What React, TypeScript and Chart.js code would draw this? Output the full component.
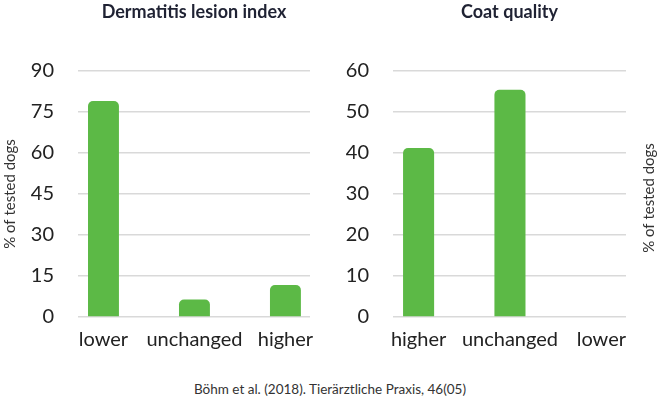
import { useEffect, useRef } from 'react'
import { Chart, registerables } from 'chart.js'

Chart.register(...registerables)

const FONT = 'Lato, "Noto Sans", sans-serif'
const GREEN = '#5cb946'
const TEXT = '#222222'

// Dermatitis lesion index
const lesionLabels = ['lower', 'unchanged', 'higher']
const lesionValues = [79, 6.4, 11.7]
const lesionTicks = { max: 90, step: 15 }

// Coat quality
const coatLabels = ['higher', 'unchanged', 'lower']
const coatValues = [41.2, 55.4, 0]
const coatTicks = { max: 60, step: 10 }

const axisTitle = '% of tested dogs'
const source = 'Böhm et al. (2018). Tierärztliche Praxis, 46(05)'

interface PanelProps {
  title: string
  labels: string[]
  values: number[]
  ticks: { max: number; step: number }
  axisWidth: number
  padRight: number
  rightTitle?: boolean
}

function Panel({ title, labels, values, ticks, axisWidth, padRight, rightTitle }: PanelProps) {
  const canvasRef = useRef<HTMLCanvasElement>(null)

  useEffect(() => {
    if (!canvasRef.current) return

    // axis title on the right side, reading bottom to top
    const rightTitlePlugin = {
      id: 'rightTitle',
      afterDraw(chart: Chart) {
        if (!rightTitle) return
        const { ctx, chartArea } = chart
        ctx.save()
        ctx.translate(chart.width - 11, (chartArea.top + chartArea.bottom) / 2 + 4)
        ctx.rotate(-Math.PI / 2)
        ctx.font = `15px ${FONT}`
        ctx.fillStyle = '#333333'
        ctx.textAlign = 'center'
        ctx.textBaseline = 'middle'
        ctx.fillText(axisTitle, 0, 0)
        ctx.restore()
      },
    }

    const chart = new Chart(canvasRef.current, {
      type: 'bar',
      data: {
        datasets: [{
          data: values.map((v, i) => ({ x: i, y: v })),
          backgroundColor: GREEN,
          borderRadius: 5,
          borderSkipped: 'start',
          categoryPercentage: 1,
          barPercentage: 0.34,
        }],
      },
      options: {
        animation: false,
        responsive: true,
        maintainAspectRatio: false,
        layout: { padding: { left: 0, right: padRight, top: 71, bottom: 0 } },
        plugins: {
          legend: { display: false },
          tooltip: { enabled: false },
        },
        scales: {
          x: {
            type: 'linear',
            min: -0.28,
            max: 2.27,
            offset: false,
            afterBuildTicks: (scale: any) => {
              scale.ticks = labels.map((_, i) => ({ value: i }))
            },
            afterFit: (scale: any) => { scale.height = 36 },
            ticks: {
              callback: (v: any) => labels[v as number] ?? '',
              color: TEXT,
              font: { family: FONT, size: 20 },
              padding: 11,
              maxRotation: 0,
            },
            grid: { display: false, drawTicks: false },
            border: { display: false },
          },
          y: {
            min: 0,
            max: ticks.max,
            afterFit: (scale: any) => { scale.width = axisWidth },
            ticks: {
              stepSize: ticks.step,
              color: TEXT,
              font: { family: FONT, size: 20 },
              padding: 24,
            },
            grid: { color: '#d9d9d9', lineWidth: 1.5, drawTicks: false },
            border: { display: false },
            title: {
              display: !rightTitle,
              text: axisTitle,
              color: '#333333',
              font: { family: FONT, size: 15 },
              padding: { top: 1, bottom: 0 },
            },
          },
        },
      },
      plugins: [rightTitlePlugin],
    })
    return () => { chart.destroy() }
  }, [title, labels, values, ticks, axisWidth, padRight, rightTitle])

  return (
    <div style={{ position: 'relative', width: 330, height: 353 }}>
      <div style={{
        position: 'absolute', top: 0, left: axisWidth, width: 330 - axisWidth - padRight,
        textAlign: 'center', fontFamily: FONT, fontWeight: 'bold', fontSize: 18,
        lineHeight: '22px', color: '#1f2233', whiteSpace: 'nowrap',
      }}>
        {title}
      </div>
      <canvas ref={canvasRef} />
    </div>
  )
}

export default function App() {
  return (
    <div style={{ position: 'absolute', left: 0, top: 0, width: 660, height: 400, background: '#fff' }}>
      <div style={{ display: 'flex' }}>
        <Panel title="Dermatitis lesion index" labels={lesionLabels} values={lesionValues}
          ticks={lesionTicks} axisWidth={78} padRight={20} />
        <Panel title="Coat quality" labels={coatLabels} values={coatValues}
          ticks={coatTicks} axisWidth={63} padRight={34} rightTitle />
      </div>
      <div style={{ position: 'absolute', left: 0, top: 381, width: 660, textAlign: 'center', fontFamily: FONT, fontSize: 13.5, color: '#333333' }}>
        {source}
      </div>
    </div>
  )
}
